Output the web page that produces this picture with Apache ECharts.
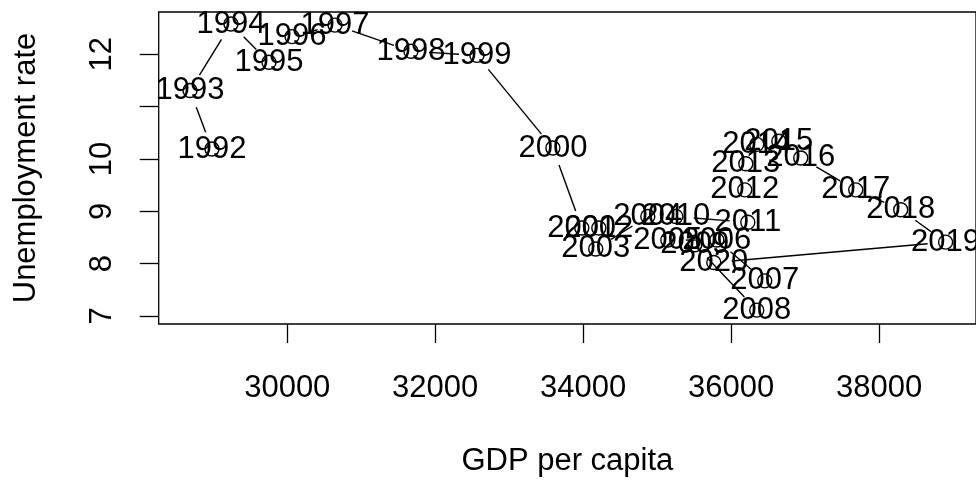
<!DOCTYPE html>
<html>
<head>
<meta charset="utf-8">
<script src="https://cdn.jsdelivr.net/npm/echarts@6/dist/echarts.min.js"></script>
<style>
html,body{margin:0;padding:0;background:#fff;overflow:hidden;}
#chart{width:976px;height:482px;}
</style>
</head>
<body>
<div id="chart"></div>
<script>
// Data
var years = [1992,1993,1994,1995,1996,1997,1998,1999,2000,2001,2002,2003,2004,2005,2006,2007,2008,2009,2010,2011,2012,2013,2014,2015,2016,2017,2018,2019,2020];
var gdpPerCapita = [28982,28685,29239,29753,30064,30645,31672,32564,33591,33982,34212,34170,34874,35145,35807,36455,36347,35509,35253,36226,36185,36199,36347,36645,36942,37685,38293,38900,35766];
var unemploymentRate = [10.19,11.31,12.58,11.85,12.34,12.56,12.06,11.98,10.21,8.68,8.68,8.28,8.90,8.45,8.45,7.67,7.11,8.36,8.90,8.79,9.41,9.91,10.28,10.34,10.02,9.41,9.03,8.41,8.02];
var xTicks = [30000,32000,34000,36000,38000];
var yTicks = [7,8,9,10,11,12];
var yTickLabels = [7,8,9,10,12];

var FONT = "'Liberation Sans', Arial, Helvetica, sans-serif";
var points = years.map(function(yr,i){ return [gdpPerCapita[i], unemploymentRate[i], yr]; });
var segments = [];
for (var i = 0; i < years.length - 1; i++) {
  segments.push([gdpPerCapita[i], unemploymentRate[i], gdpPerCapita[i+1], unemploymentRate[i+1]]);
}
var GAP = 18;

var chart = echarts.init(document.getElementById('chart'));
chart.setOption({
  animation: false,
  backgroundColor: '#fff',
  grid: {
    left: 158.7, top: 12, width: 817.6, height: 319,
    show: true, borderColor: '#000', borderWidth: 1.3, backgroundColor: 'transparent'
  },
  xAxis: {
    type: 'value', min: 28262, max: 39311,
    splitLine: {show: false},
    axisLine: {show: false},
    axisTick: {show: true, length: 19, inside: false, customValues: xTicks, lineStyle: {color: '#000', width: 1.3}},
    axisLabel: {show: true, customValues: xTicks, margin: 49, color: '#000', fontSize: 31, fontFamily: FONT,
      formatter: function(v){ return String(v); }},
    name: 'GDP per capita', nameLocation: 'middle', nameGap: 122,
    nameTextStyle: {color: '#000', fontSize: 31, fontFamily: FONT}
  },
  yAxis: {
    type: 'value', min: 6.845, max: 12.81,
    splitLine: {show: false},
    axisLine: {show: false},
    axisTick: {show: true, length: 19, inside: false, customValues: yTicks, lineStyle: {color: '#000', width: 1.3}},
    axisLabel: {show: true, customValues: yTickLabels, rotate: 90, margin: 41, color: '#000', fontSize: 31, fontFamily: FONT,
      formatter: function(v){ return String(v); }},
    name: 'Unemployment rate', nameLocation: 'middle', nameGap: 117,
    nameTextStyle: {color: '#000', fontSize: 31, fontFamily: FONT}
  },
  series: [
    {
      type: 'custom',
      coordinateSystem: 'cartesian2d',
      data: segments,
      encode: {x: [0, 2], y: [1, 3]},
      silent: true,
      renderItem: function(params, api) {
        var p1 = api.coord([api.value(0), api.value(1)]);
        var p2 = api.coord([api.value(2), api.value(3)]);
        var dx = p2[0] - p1[0], dy = p2[1] - p1[1];
        var d = Math.sqrt(dx*dx + dy*dy);
        if (d <= 2*GAP) return null;
        var ux = dx/d, uy = dy/d;
        return {
          type: 'line',
          shape: {x1: p1[0] + ux*GAP, y1: p1[1] + uy*GAP, x2: p2[0] - ux*GAP, y2: p2[1] - uy*GAP},
          style: {stroke: '#000', lineWidth: 1.4}
        };
      },
      z: 2
    },
    {
      type: 'scatter',
      data: points,
      symbol: 'circle',
      symbolSize: 14,
      itemStyle: {color: 'rgba(0,0,0,0)', borderColor: '#000', borderWidth: 1.4, opacity: 1},
      label: {
        show: true, position: 'inside', offset: [0, -5],
        formatter: function(p){ return String(p.value[2]); },
        color: '#000', fontSize: 31, fontFamily: FONT, textBorderWidth: 0
      },
      labelLayout: {hideOverlap: false},
      z: 3
    }
  ]
});
</script>
</body>
</html>
